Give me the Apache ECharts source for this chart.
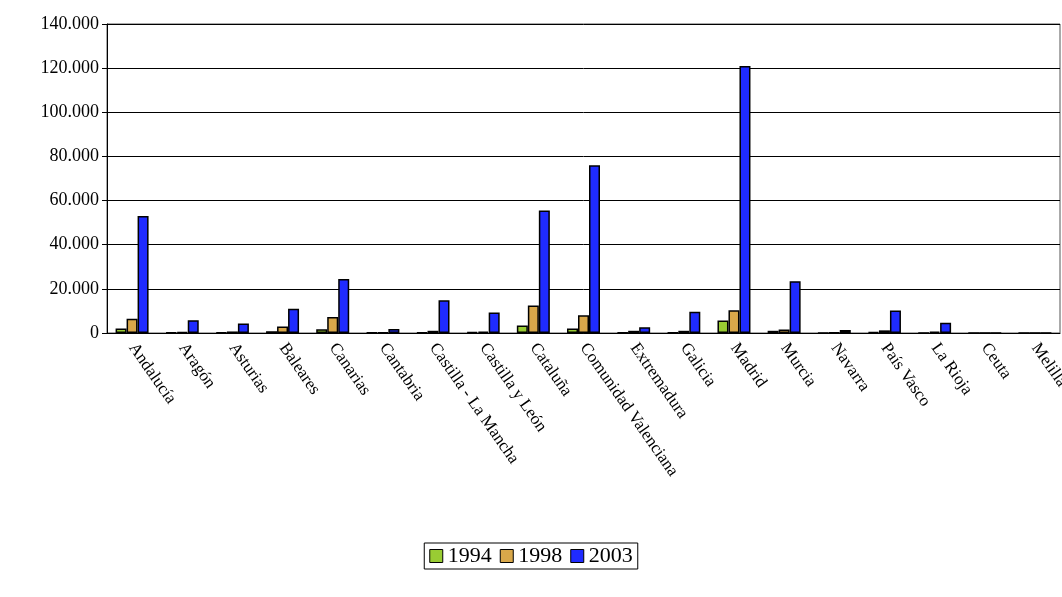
<!DOCTYPE html>
<html><head><meta charset="utf-8">
<script src="https://cdn.jsdelivr.net/npm/echarts@6/dist/echarts.min.js"></script>
<style>html,body{margin:0;background:#fff}#c{width:1062px;height:597px}</style>
</head><body><div id="c"></div>
<script>
const categories = ['Andalucía','Aragón','Asturias','Baleares','Canarias','Cantabria','Castilla - La Mancha','Castilla y León','Cataluña','Comunidad Valenciana','Extremadura','Galicia','Madrid','Murcia','Navarra','País Vasco','La Rioja','Ceuta','Melilla'];
const y1994 = [2000,300,300,800,1700,200,300,400,3400,2000,200,200,5700,1000,100,400,100,0,0];
const y1998 = [6500,400,700,2900,7200,300,1000,600,12500,8000,1000,1000,10300,1600,200,1200,600,0,0];
const y2003 = [53000,5800,4300,11000,24500,1800,14800,9300,55500,76000,2600,9600,121000,23500,1400,10200,4600,0,0];

const fmt = v => String(v).replace(/\B(?=(\d{3})+(?!\d))/g, '.');
const font = 'Liberation Serif';
const bar = (name, data, color) => ({
  name, type: 'bar', data, barWidth: 11, barGap: '0%',
  itemStyle: { color, borderColor: '#000', borderWidth: 1.5 }
});

const chart = echarts.init(document.getElementById('c'));
chart.setOption({
  animation: false,
  textStyle: { fontFamily: font },
  grid: { left: 107, right: 2, top: 24, bottom: 264, containLabel: false, outerBoundsMode: 'none',
    show: true, borderColor: '#555', borderWidth: 1 },
  legend: {
    bottom: 28, left: 'center', itemWidth: 13, itemHeight: 13, itemGap: 8, icon: 'rect',
    borderColor: '#000', borderWidth: 1, padding: [2, 5], borderRadius: 0,
    textStyle: { fontSize: 22, color: '#000', fontFamily: font },
    itemStyle: { borderColor: '#000', borderWidth: 1 },
    data: ['1994', '1998', '2003']
  },
  xAxis: {
    type: 'category', data: categories,
    axisLine: { lineStyle: { color: '#000' } },
    axisTick: { lineStyle: { color: '#000' } },
    axisLabel: { rotate: -55, interval: 0, color: '#000', fontSize: 17, fontFamily: font, margin: 12 }
  },
  yAxis: {
    type: 'value', min: 0, max: 140000, interval: 20000,
    axisLine: { show: true, lineStyle: { color: '#000' } },
    axisTick: { show: true, lineStyle: { color: '#000' } },
    splitLine: { lineStyle: { color: '#000' } },
    axisLabel: { color: '#000', fontSize: 18, fontFamily: font, formatter: fmt }
  },
  series: [
    bar('1994', y1994, '#99cc33'),
    bar('1998', y1998, '#d9a84a'),
    bar('2003', y2003, '#1f2bff')
  ]
});
</script></body></html>
